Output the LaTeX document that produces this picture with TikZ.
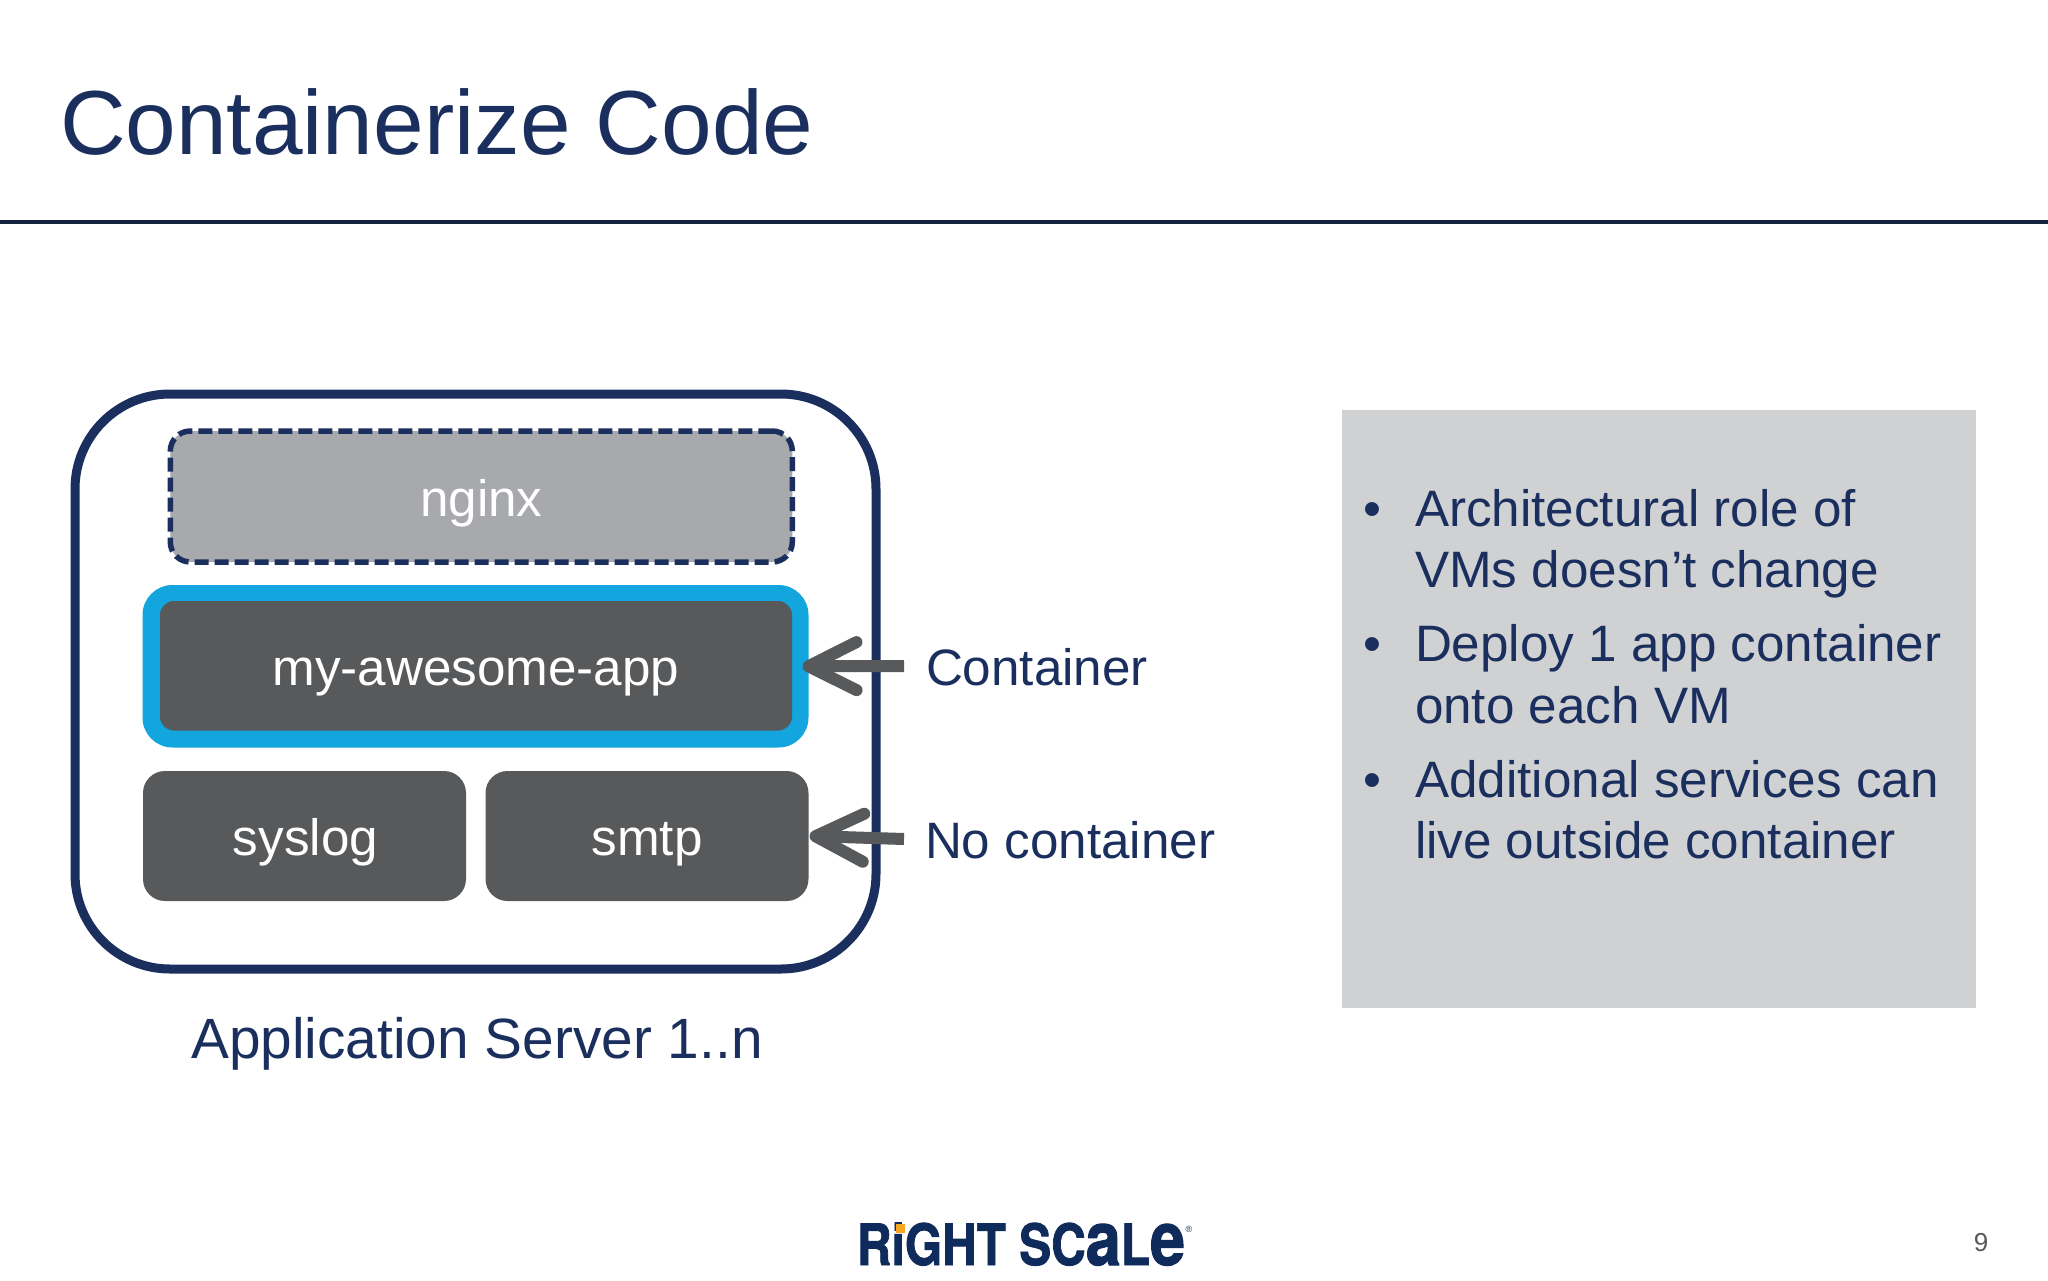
\documentclass[tikz,border=0pt]{standalone}
\usepackage{fontspec}
\setmainfont{Liberation Sans}
\newfontfamily\logofont[FakeBold=1.5]{TeX Gyre Heros}
\usetikzlibrary{arrows.meta}
\definecolor{navy}{HTML}{1B2F5E}
\definecolor{rule}{HTML}{14233F}
\definecolor{slate}{HTML}{58595B}
\definecolor{midgrey}{HTML}{A7A9AC}
\definecolor{panelgrey}{HTML}{D0D1D3}
\definecolor{skyblue}{HTML}{12A5DE}
\definecolor{logonavy}{HTML}{0F2B5B}
\definecolor{logoorange}{HTML}{F5A623}
\tikzset{
  every node/.style={inner sep=0pt,outer sep=0pt},
  body/.style={font=\fontsize{51.2}{61.5}\selectfont,text=navy,anchor=base west},
  cell/.style={font=\fontsize{51.2}{61.5}\selectfont,text=white,text depth=0pt,align=center},
  gbox/.style={cell,fill=slate,rounded corners=22pt},
  pointer/.style={draw=slate,line width=12pt,-{Straight Barb[round,length=48pt,width=48pt,line width=12pt]}}
}
\begin{document}
\begin{tikzpicture}[x=1pt,y=-1pt]
\useasboundingbox[fill=white] (0,0) rectangle (2048,1280);
\node[anchor=base west,font=\fontsize{91}{100}\selectfont,text=navy] (title) at (60,154) {Containerize Code};
\coordinate (ruleL) at (0,222);
\coordinate (ruleR) at (2048,222);
\draw[rule,line width=4pt] (ruleL) -- (ruleR);
% server
\node[draw=navy,line width=9pt,rounded corners=95pt,minimum width=801pt,minimum height=575pt] (server) at (475.5,681.5) {};
\node[cell,fill=midgrey,draw=navy,line width=5.5pt,dash pattern=on 14pt off 6pt,rounded corners=20pt,minimum width=622pt,minimum height=131pt,text height=40pt] (nginx) at (481.3,496.5) {nginx};
\node[fill=skyblue,rounded corners=30pt,minimum width=666pt,minimum height=162.5pt] (container) at (475.5,666.25) {};
\node[gbox,rounded corners=14pt,minimum width=632pt,minimum height=129.5pt,text height=38.5pt] (app) at (476,665.75) {my-awesome-app};
\node[gbox,minimum width=323pt,minimum height=130pt,text height=38pt] (syslog) at (304.5,836) {\hspace{2pt}syslog};
\node[gbox,minimum width=323pt,minimum height=130pt,text height=38pt] (smtp) at (647,836) {smtp};
\node[anchor=base,font=\fontsize{56.8}{61.5}\selectfont,text=navy] (caption) at (477,1058) {Application Server 1..n};
% pointers
\node[body] (lblA) at (926,685) {Container};
\node[body] (lblB) at (925,858) {No container};
\coordinate (startA) at (904,666);
\coordinate (startB) at (904,839);
\draw[pointer,shorten >=-6pt] (startA) -- (container.east);
\draw[pointer,shorten >=1pt] (startB) -- (smtp.east);
% panel
\node[fill=panelgrey,minimum width=634pt,minimum height=598pt] (panel) at (1659,709) {};
\foreach \n/\y/\t in {a/526/Architectural role of,b/587/VMs doesn’t change,c/661/Deploy 1 app container,d/723/onto each VM,e/797/Additional services can,f/858/live outside container}{
  \node[body] (line\n) at (1415,\y) {\t};
}
\foreach \n/\y in {a/526,c/661,e/797}{
  \node[body,anchor=base] (dot\n) at (1372,\y) {•};
}
% logo
\node[anchor=base west,text=logonavy,font=\logofont\bfseries\fontsize{57}{60}\selectfont] (logo) at (857,1265) {\scalebox{0.84}[1]{RiGHT SC{\fontsize{75}{60}\selectfont a}L{\fontsize{75}{60}\selectfont e}}};
\fill[logoorange] (896,1224) rectangle (905,1233);
\node[text=logonavy,font=\fontsize{9}{10}\selectfont] (reg) at (1189,1229) {®};
\node[anchor=base,text=slate,font=\fontsize{26}{30}\selectfont] (page) at (1981,1251) {9};
\end{tikzpicture}
\end{document}
